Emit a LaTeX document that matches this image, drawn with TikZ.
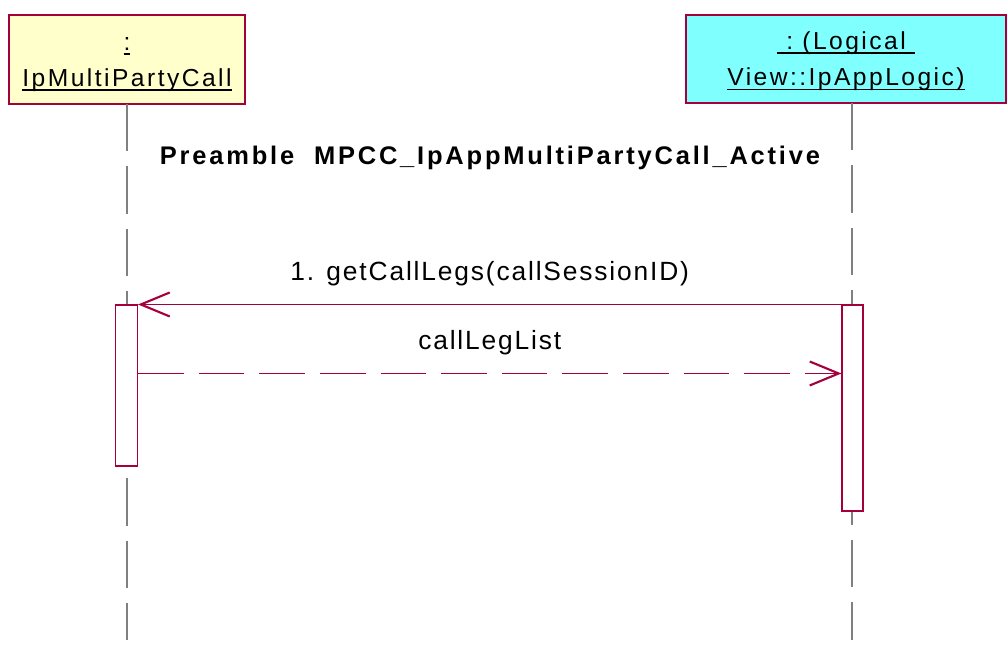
\documentclass[tikz,border=0pt]{standalone}
\usepackage{fontspec}
\setmainfont{Liberation Sans}
\usetikzlibrary{arrows.meta}
\definecolor{umlline}{HTML}{A5003C}
\definecolor{objyellow}{HTML}{FFFFCC}
\definecolor{objcyan}{HTML}{80FFFF}
\definecolor{lifegray}{HTML}{808080}
\newcommand{\objul}[1]{\setbox0\hbox{#1}\rlap{\rule[-2.6pt]{\wd0}{1.1pt}}\box0}
\tikzset{
  objbox/.style={draw=umlline, line width=0.6pt, align=center, inner sep=0pt,
                 font=\fontsize{14}{20.5}\selectfont\addfontfeature{LetterSpace=10}},
  lifeline/.style={draw=lifegray, line width=0.9pt, dash pattern=on 27pt off 8.5pt},
  actbox/.style={draw=umlline, fill=white, line width=0.6pt, minimum width=0.44cm, inner sep=0pt},
  callmsg/.style={draw=umlline, line width=0.6pt, -{Straight Barb[length=0.58cm, width=0.48cm, line width=1.2pt]}},
  retmsg/.style={callmsg, line width=0.8pt, dash pattern=on 26pt off 8.5pt},
  msglabel/.style={text=black, font=\fontsize{15}{18}\selectfont\addfontfeature{LetterSpace=7}},
}
\begin{document}
\begin{tikzpicture}
    \useasboundingbox (0,0) rectangle (20.14,-13.1);
    \node[objbox, fill=objyellow, minimum width=4.72cm, minimum height=1.78cm] (mpc) at (2.54,-1.19)
      {\rule{0pt}{13pt}\objul{:}\\\objul{IpMultiPartyCall}};
    \node[objbox, fill=objcyan, minimum width=6.4cm, minimum height=1.76cm] (app) at (16.92,-1.18)
      {\rule{0pt}{13pt}\objul{\ :\ (Logical\ }\\\objul{View::IpAppLogic)}};
    \coordinate (mpctop) at (2.54,-2.08);
    \coordinate (mpcend) at (2.54,-12.8);
    \coordinate (apptop) at (17.04,-2.06);
    \coordinate (append) at (17.04,-12.8);
    \draw[lifeline] (mpctop) -- (mpcend);
    \draw[lifeline] (apptop) -- (append);
    \node[actbox, minimum height=3.22cm] (act1) at (2.53,-7.71) {};
    \node[actbox, minimum height=4.12cm, minimum width=0.42cm] (act2) at (17.05,-8.16) {};
    \node[font=\fontsize{14.5}{17}\bfseries\selectfont\addfontfeature{LetterSpace=11}] (pre) at (9.8,-3.16)
      {Preamble\ \ MPCC\_IpAppMultiPartyCall\_Active};
    \draw[callmsg] (act2.north west) -- (act1.north east)
      node[msglabel, midway, above=0.24cm] (m1) {1. getCallLegs(callSessionID)};
    \coordinate (ret1) at ([yshift=-1.38cm]act1.north east);
    \coordinate (ret2) at ([yshift=-1.38cm]act2.north west);
    \draw[retmsg] (ret1) -- (ret2)
      node[msglabel, midway, above=0.24cm] (m2) {callLegList};
  \end{tikzpicture}
\end{document}
